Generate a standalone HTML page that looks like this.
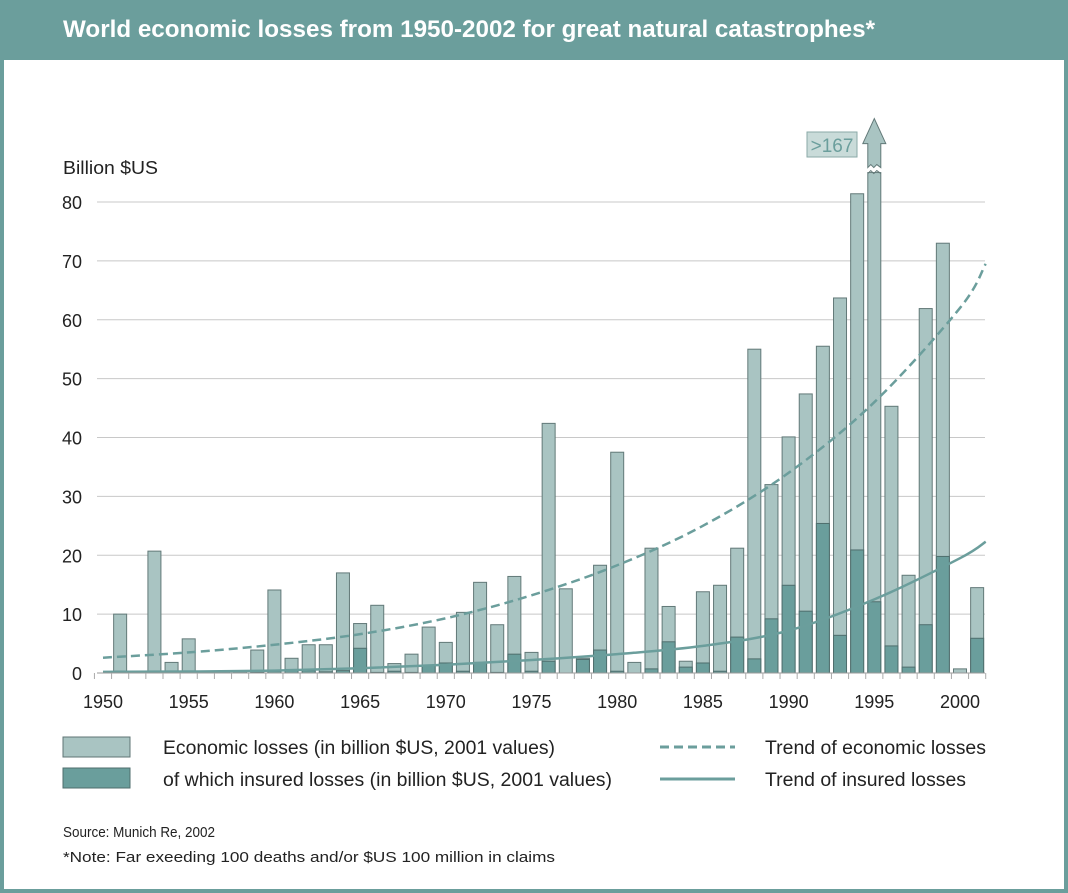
<!DOCTYPE html>
<html><head><meta charset="utf-8"><style>
html,body{margin:0;padding:0;background:#fff}
svg{display:block;font-family:"Liberation Sans",sans-serif}
</style></head><body>
<svg id="chart" width="1068" height="893" viewBox="0 0 1068 893" xmlns="http://www.w3.org/2000/svg">
<rect x="2" y="2" width="1064" height="889" fill="#fff" stroke="#6b9e9c" stroke-width="4"/>
<rect x="0" y="0" width="1068" height="60" fill="#6b9e9c"/>
<text x="63" y="37" fill="#fff" font-size="24" font-weight="bold" textLength="812" lengthAdjust="spacingAndGlyphs">World economic losses from 1950-2002 for great natural catastrophes*</text>
<text x="63" y="174" font-size="18" fill="#222" textLength="95" lengthAdjust="spacingAndGlyphs">Billion $US</text>
<g id="grid"></g><g id="bars"></g><g id="trends"></g><g id="axes"></g>
<g>
<rect x="63" y="737" width="67" height="20" fill="#a9c4c2" stroke="#5f7574"/>
<text x="163" y="754" font-size="19" fill="#222" textLength="392" lengthAdjust="spacingAndGlyphs">Economic losses (in billion $US, 2001 values)</text>
<rect x="63" y="768" width="67" height="20" fill="#6a9e9c" stroke="#4f6e6d"/>
<text x="163" y="786" font-size="19" fill="#222" textLength="449" lengthAdjust="spacingAndGlyphs">of which insured losses (in billion $US, 2001 values)</text>
<line x1="660" y1="747" x2="735" y2="747" stroke="#6b9e9c" stroke-width="3" stroke-dasharray="9,5"/>
<text x="765" y="754" font-size="19" fill="#222" textLength="221" lengthAdjust="spacingAndGlyphs">Trend of economic losses</text>
<line x1="660" y1="779" x2="735" y2="779" stroke="#6b9e9c" stroke-width="3"/>
<text x="765" y="786" font-size="19" fill="#222" textLength="201" lengthAdjust="spacingAndGlyphs">Trend of insured losses</text>
</g>
<text x="63" y="837" font-size="15" fill="#222" textLength="152" lengthAdjust="spacingAndGlyphs">Source: Munich Re, 2002</text>
<text x="63" y="862" font-size="15" fill="#222" textLength="492" lengthAdjust="spacingAndGlyphs">*Note: Far exeeding 100 deaths and/or $US 100 million in claims</text>
</svg>
<script>
const years=[1951,1952,1953,1954,1955,1956,1957,1958,1959,1960,1961,1962,1963,1964,1965,1966,1967,1968,1969,1970,1971,1972,1973,1974,1975,1976,1977,1978,1979,1980,1981,1982,1983,1984,1985,1986,1987,1988,1989,1990,1991,1992,1993,1994,1995,1996,1997,1998,1999,2000,2001];
const economic=[10,0.3,20.7,1.8,5.8,0.2,0.2,0.2,3.9,14.1,2.5,4.8,4.8,17,8.4,11.5,1.6,3.2,7.8,5.2,10.3,15.4,8.2,16.4,3.5,42.4,14.3,2.5,18.3,37.5,1.8,21.2,11.3,2,13.8,14.9,21.2,55,32,40.1,47.4,55.5,63.7,81.4,167,45.3,16.6,61.9,73,0.7,14.5];
const insured=[0.3,0,0.3,0,0.2,0,0,0,0.1,0.3,0.6,0.4,0.2,0.4,4.2,0.1,0.3,0.1,1.2,1.7,0.3,1.8,0.1,3.2,0.3,2.0,0,2.3,3.9,0.3,0,0.7,5.3,1.0,1.7,0.3,6.1,2.4,9.2,14.9,10.5,25.4,6.4,20.9,12.1,4.6,1.0,8.2,19.8,0,5.9];
const trendYears=[1950,1955,1960,1965,1970,1975,1980,1985,1990,1995,2000,2001.5];
const econTrend=[2.6,3.5,4.8,6.6,9.3,13.2,18.3,25,34,46,62,69.5];
const insTrend=[0.2,0.25,0.4,0.8,1.4,2.2,3.2,4.6,7.2,12.5,19.5,22.3];
const yTicks=[0,10,20,30,40,50,60,70,80];
const xTickLabels=[1950,1955,1960,1965,1970,1975,1980,1985,1990,1995,2000];
const NS='http://www.w3.org/2000/svg';
const X=y=>103+(y-1950)*17.14;
const Y=v=>673-v*5.8875;
const CAP=85;
function mk(t,a,p){const e=document.createElementNS(NS,t);for(const k in a)e.setAttribute(k,a[k]);p.appendChild(e);return e;}
const grid=document.getElementById('grid'),bars=document.getElementById('bars'),tr=document.getElementById('trends'),ax=document.getElementById('axes');
yTicks.forEach(v=>{
 const l=mk('line',{x1:97,x2:985,y1:Y(v),y2:Y(v),stroke:'#c8c8c8','stroke-width':1},grid);
 
 
 const t=mk('text',{x:82,y:Y(v)+7,'text-anchor':'end','font-size':18,fill:'#222'},ax);
 t.textContent=v;
 
 
});
const bw=13;
years.forEach((yr,i)=>{
 const x=X(yr)-bw/2,e=Math.min(economic[i],CAP);
 const b=mk('rect',{x:x,y:Y(e),width:bw,height:Y(0)-Y(e),fill:'#a9c4c2',stroke:'#627978','stroke-width':1},bars);
 
 
 if(insured[i]>0){
  const d=mk('rect',{x:x,y:Y(insured[i]),width:bw,height:Y(0)-Y(insured[i]),fill:'#6a9e9c',stroke:'#4f6e6d','stroke-width':1},bars);
  
  
 }
 if(economic[i]>CAP){
  const top=Y(CAP),cx=X(yr);
  const ar=mk('path',{d:`M${x} ${top-5} l3 -3 l3 3 l3 -3 l4 3 V${top-29} h5 L${cx} ${top-54} L${x-5} ${top-29} h5 Z`,fill:'#a9c4c2',stroke:'#627978','stroke-width':1},bars);
  
  
  const w=mk('path',{d:`M${x} ${top+1} l3 -3 l3 3 l3 -3 l4 3`,fill:'none',stroke:'#627978','stroke-width':1},bars);
  
  
  const bx=mk('rect',{x:807,y:132,width:50,height:25,fill:'#c9dbd9',stroke:'#8aa9a7'},bars);
  
  
  const lt=mk('text',{x:832,y:152,'text-anchor':'middle','font-size':19,fill:'#6b9e9c'},bars);
  lt.textContent='>'+economic[i];
  
  
 }
});
function pathOf(vals){
 const p=trendYears.map((t,i)=>[X(t),Y(vals[i])]);
 let d=`M${p[0][0]} ${p[0][1]}`;
 for(let i=0;i<p.length-1;i++){
  const p0=p[Math.max(0,i-1)],p1=p[i],p2=p[i+1],p3=p[Math.min(p.length-1,i+2)];
  d+=` C${p1[0]+(p2[0]-p0[0])/6} ${p1[1]+(p2[1]-p0[1])/6} ${p2[0]-(p3[0]-p1[0])/6} ${p2[1]-(p3[1]-p1[1])/6} ${p2[0]} ${p2[1]}`;
 }
 return d;
}
const te=mk('path',{d:pathOf(econTrend),fill:'none',stroke:'#6b9e9c','stroke-width':2.5,'stroke-dasharray':'9,5'},tr);


const ti=mk('path',{d:pathOf(insTrend),fill:'none',stroke:'#6b9e9c','stroke-width':2.5},tr);


const axl=mk('line',{x1:97,x2:985,y1:Y(0),y2:Y(0),stroke:'#999','stroke-width':1},ax);


for(let yr=1950;yr<=2002;yr++){
 const tk=mk('line',{x1:X(yr)-8.57,x2:X(yr)-8.57,y1:Y(0),y2:Y(0)+6,stroke:'#aaa'},ax);
 
 
}
xTickLabels.forEach(yr=>{
 const t=mk('text',{x:X(yr),y:708,'text-anchor':'middle','font-size':18,fill:'#222'},ax);
 t.textContent=yr;
 
 
});
</script>
</body></html>
